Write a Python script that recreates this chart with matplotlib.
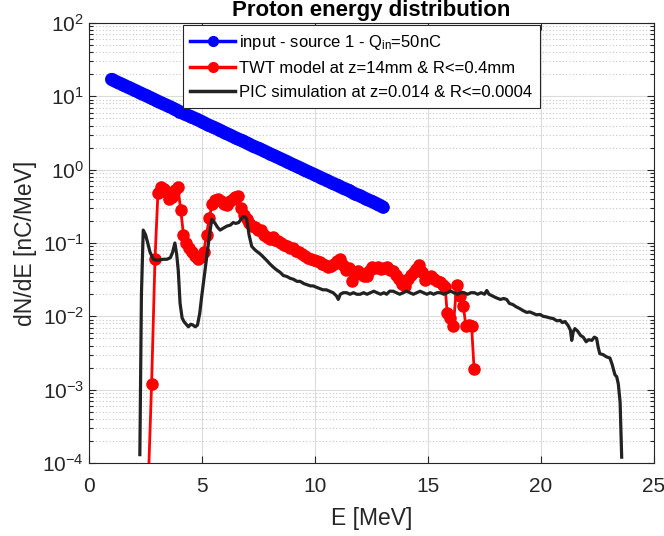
import matplotlib
matplotlib.use("Agg")
import matplotlib.pyplot as plt
from matplotlib.ticker import LogLocator, NullFormatter, MultipleLocator
from matplotlib.lines import Line2D

plt.rcParams['font.family'] = ['Liberation Sans', 'DejaVu Sans']
plt.rcParams['mathtext.fontset'] = 'custom'
plt.rcParams['mathtext.rm'] = 'Liberation Sans'
plt.rcParams['mathtext.it'] = 'Liberation Sans:italic'

# ---------------- data ----------------
input_E = [1.0, 1.25, 1.5, 1.75, 2.0, 2.25, 2.5, 2.75, 3.0, 3.25, 3.5, 3.75, 4.0, 4.25,
           4.5, 4.75, 5.0, 5.25, 5.5, 5.75, 6.0, 6.25, 6.5, 6.75, 7.0, 7.25, 7.5, 7.75,
           8.0, 8.25, 8.5, 8.75, 9.0, 9.25, 9.5, 9.75, 10.0, 10.25, 10.5, 10.75, 11.0,
           11.25, 11.5, 11.75, 12.0, 12.25, 12.5, 12.75, 13.0]
input_dNdE = [17.0, 15.6, 14.4, 13.2, 12.2, 11.2, 10.3, 9.5, 8.7, 8.0, 7.4, 6.8, 6.2, 5.7,
              5.3, 4.9, 4.5, 4.1, 3.8, 3.5, 3.2, 2.95, 2.7, 2.5, 2.3, 2.1, 1.95, 1.8,
              1.65, 1.52, 1.40, 1.29, 1.18, 1.09, 1.00, 0.92, 0.85, 0.78, 0.72, 0.66, 0.61,
              0.56, 0.52, 0.47, 0.44, 0.40, 0.37, 0.34, 0.31]

twt_E = [2.62, 2.77, 2.92, 3.05, 3.18, 3.30, 3.42, 3.55, 3.68, 3.80, 3.93, 4.06, 4.18, 4.30,
         4.43, 4.56, 4.69, 4.82, 4.95, 5.08, 5.20, 5.32, 5.45, 5.58, 5.71, 5.84, 5.97, 6.10,
         6.22, 6.35, 6.48, 6.60, 6.72, 6.85, 6.98, 7.10, 7.22, 7.35, 7.48, 7.60, 7.73, 7.86,
         7.99, 8.12, 8.25, 8.38, 8.51, 8.64, 8.77, 8.90, 9.03, 9.16, 9.29, 9.42, 9.55, 9.68,
         9.81, 9.94, 10.07, 10.20, 10.33, 10.46, 10.59, 10.72, 10.85, 10.98, 11.11, 11.24,
         11.37, 11.50, 11.63, 11.76, 11.89, 12.02, 12.15, 12.28, 12.41, 12.54, 12.67, 12.80,
         12.93, 13.06, 13.19, 13.32, 13.45, 13.58, 13.71, 13.84, 13.97, 14.10, 14.23, 14.36,
         14.49, 14.62, 14.75, 14.88, 15.01, 15.14, 15.27, 15.40, 15.53, 15.66, 15.76, 15.85,
         15.98, 16.12, 16.27, 16.40, 16.56, 16.68, 16.80, 16.93, 17.04]
twt_dNdE = [5e-5, 1.2e-3, 0.06, 0.48, 0.58, 0.55, 0.50, 0.40, 0.42, 0.52, 0.58, 0.28, 0.13, 0.10,
            0.085, 0.075, 0.066, 0.061, 0.064, 0.076, 0.13, 0.22, 0.34, 0.38, 0.40, 0.37, 0.34, 0.33,
            0.37, 0.40, 0.43, 0.44, 0.30, 0.24, 0.21, 0.19, 0.17, 0.165, 0.15, 0.15, 0.13, 0.12,
            0.115, 0.12, 0.11, 0.105, 0.10, 0.095, 0.09, 0.085, 0.085, 0.078, 0.075, 0.07, 0.066, 0.062,
            0.06, 0.058, 0.056, 0.055, 0.052, 0.05, 0.047, 0.048, 0.052, 0.057, 0.06, 0.05,
            0.043, 0.045, 0.03, 0.04, 0.042, 0.038, 0.036, 0.035, 0.042, 0.047, 0.045, 0.047,
            0.044, 0.046, 0.047, 0.043, 0.041, 0.037, 0.032, 0.028, 0.026, 0.032, 0.037, 0.04,
            0.044, 0.05, 0.04, 0.031, 0.034, 0.035, 0.032, 0.030, 0.029, 0.027, 0.025, 0.011,
            0.0095, 0.0073, 0.027, 0.019, 0.014, 0.0073, 0.0075, 0.0073, 0.0019]

pic_E = [2.25, 2.32, 2.40, 2.50, 2.60, 2.70, 2.85, 3.00, 3.15, 3.30, 3.45, 3.60, 3.70, 3.80,
         3.88, 3.95, 4.03, 4.12, 4.20, 4.30, 4.40, 4.50, 4.60, 4.70, 4.80, 4.90, 4.98, 5.10,
         5.20, 5.32, 5.43, 5.50, 5.58, 5.68, 5.80, 5.95, 6.10, 6.25, 6.38, 6.50, 6.62, 6.75,
         6.83, 6.92, 6.98, 7.08, 7.20, 7.32, 7.42, 7.55, 7.70, 7.86, 8.00, 8.15, 8.30, 8.45,
         8.60, 8.75, 8.90, 9.05, 9.20, 9.34, 9.50, 9.65, 9.80, 9.92, 10.05, 10.20, 10.35,
         10.50, 10.65, 10.80, 10.95, 11.03, 11.12, 11.25, 11.40, 11.55, 11.70, 11.85, 12.00,
         12.15, 12.30, 12.45, 12.60, 12.75, 12.90, 13.05, 13.17, 13.30, 13.46, 13.60, 13.75,
         13.90, 14.05, 14.20, 14.35, 14.50, 14.65, 14.80, 14.95, 15.10, 15.25, 15.40, 15.55,
         15.70, 15.85, 16.00, 16.15, 16.30, 16.45, 16.60, 16.75, 16.90, 17.05, 17.20, 17.35,
         17.50, 17.60, 17.70, 17.85, 18.00, 18.20, 18.35, 18.48, 18.60, 18.75, 18.90, 19.07,
         19.20, 19.37, 19.50, 19.65, 19.80, 19.96, 20.10, 20.25, 20.40, 20.55, 20.70, 20.85,
         20.95, 21.06, 21.20, 21.30, 21.36, 21.43, 21.50, 21.62, 21.75, 21.87, 22.00, 22.10,
         22.25, 22.36, 22.46, 22.53, 22.60, 22.75, 22.90, 23.05, 23.15, 23.27, 23.35, 23.42,
         23.50, 23.57]
pic_dNdE = [1.3e-4, 0.02, 0.15, 0.13, 0.10, 0.075, 0.06, 0.058, 0.059, 0.06, 0.06, 0.063, 0.075, 0.10,
            0.07, 0.042, 0.015, 0.0095, 0.0085, 0.0078, 0.0072, 0.0078, 0.0076, 0.0072, 0.0076, 0.011, 0.018, 0.035,
            0.06, 0.12, 0.21, 0.20, 0.185, 0.165, 0.15, 0.16, 0.17, 0.175, 0.19, 0.185, 0.19, 0.215,
            0.23, 0.225, 0.21, 0.13, 0.09, 0.082, 0.077, 0.072, 0.065, 0.058, 0.052, 0.047, 0.043, 0.040,
            0.036, 0.035, 0.033, 0.032, 0.030, 0.030, 0.028, 0.027, 0.026, 0.026, 0.025, 0.024, 0.023,
            0.023, 0.022, 0.021, 0.019, 0.017, 0.020, 0.021, 0.021, 0.020, 0.021, 0.020, 0.020,
            0.021, 0.020, 0.021, 0.022, 0.021, 0.020, 0.021, 0.020, 0.022, 0.022, 0.021, 0.020,
            0.021, 0.022, 0.021, 0.020, 0.021, 0.022, 0.021, 0.020, 0.021, 0.020, 0.021, 0.021,
            0.020, 0.021, 0.022, 0.021, 0.020, 0.021, 0.021, 0.020, 0.021, 0.021, 0.020, 0.021,
            0.020, 0.0225, 0.020, 0.019, 0.018, 0.017, 0.0175, 0.017, 0.015, 0.0145, 0.0135, 0.0127,
            0.012, 0.0113, 0.0115, 0.011, 0.0105, 0.0106, 0.010, 0.0098, 0.0095, 0.0093, 0.0087, 0.0088,
            0.0082, 0.0085, 0.0075, 0.0065, 0.0047, 0.0062, 0.0068, 0.0063, 0.0055, 0.0052, 0.0045, 0.0048,
            0.0047, 0.0052, 0.005, 0.0038, 0.0031, 0.003, 0.0028, 0.0027, 0.0022, 0.0016, 0.0015, 0.0012,
            0.00068, 0.00012]

labels = ["input - source 1 - Q$_{\\mathrm{in}}$=50nC",
          "TWT model at z=14mm & R<=0.4mm",
          "PIC simulation at z=0.014 & R<=0.0004"]
title = "Proton energy distribution"
xlabel = "E [MeV]"
ylabel = "dN/dE [nC/MeV]"

BLUE, RED, BLACK = '#0000ff', '#ff0000', '#222222'

# ---------------- figure ----------------
fig = plt.figure(figsize=(6.64, 5.36), dpi=100)
ax = fig.add_axes([89/664, 1 - 463/536, 565/664, 440/536])

# densely overlapping markers form a continuous band
ax.plot(input_E, input_dNdE, '-o', color=BLUE, mfc=BLUE, mec=BLUE, lw=9.5, ms=9,
        mew=0, solid_capstyle='round', solid_joinstyle='round', zorder=3)
ax.plot(twt_E, twt_dNdE, '-o', color=RED, mfc=RED, mec=RED, lw=2.0, ms=8, zorder=3)
ax.plot(pic_E, pic_dNdE, '-', color=BLACK, lw=2.3, zorder=3)

ax.set_yscale('log')
ax.set_xlim(0, 25)
ax.set_ylim(1e-4, 1e2)
ax.xaxis.set_major_locator(MultipleLocator(5))
ax.yaxis.set_major_locator(LogLocator(base=10, numticks=10))
ax.yaxis.set_minor_locator(LogLocator(base=10, subs=range(2, 10), numticks=20))
ax.yaxis.set_minor_formatter(NullFormatter())

ax.grid(True, which='major', color='#dcdcdc', lw=0.8, ls='-', zorder=0)
ax.grid(True, which='minor', axis='y', color='#c8c8c8', lw=0.8, ls=(0, (1, 2)), zorder=0)

for s in ax.spines.values():
    s.set_color('#262626')
    s.set_linewidth(0.8)
ax.tick_params(which='both', direction='in', top=True, right=True, colors='#262626',
               labelcolor='#262626', labelsize=15, width=0.8)
ax.tick_params(which='major', length=5)
ax.tick_params(which='minor', length=3)
ax.tick_params(axis='x', pad=10)

ax.set_xlabel(xlabel, fontsize=16.5, color='#262626', labelpad=8)
ax.set_ylabel(ylabel, fontsize=16.5, color='#262626', labelpad=4)
ax.set_title(title, fontsize=16, fontweight='bold', color='#000000', pad=5)

handles = [Line2D([], [], color=BLUE, lw=2.5, marker='o', ms=7),
           Line2D([], [], color=RED, lw=2.5, marker='o', ms=7),
           Line2D([], [], color=BLACK, lw=2.5)]
leg = ax.legend(handles, labels, loc='upper left', bbox_to_anchor=(0.166, 0.995), fontsize=12,
                fancybox=False, framealpha=1, edgecolor='#262626', handlelength=2.7,
                borderpad=0.45, labelspacing=0.55, handletextpad=0.25, borderaxespad=0)
leg.get_frame().set_linewidth(0.8)

fig.savefig('out.png', dpi=100)
